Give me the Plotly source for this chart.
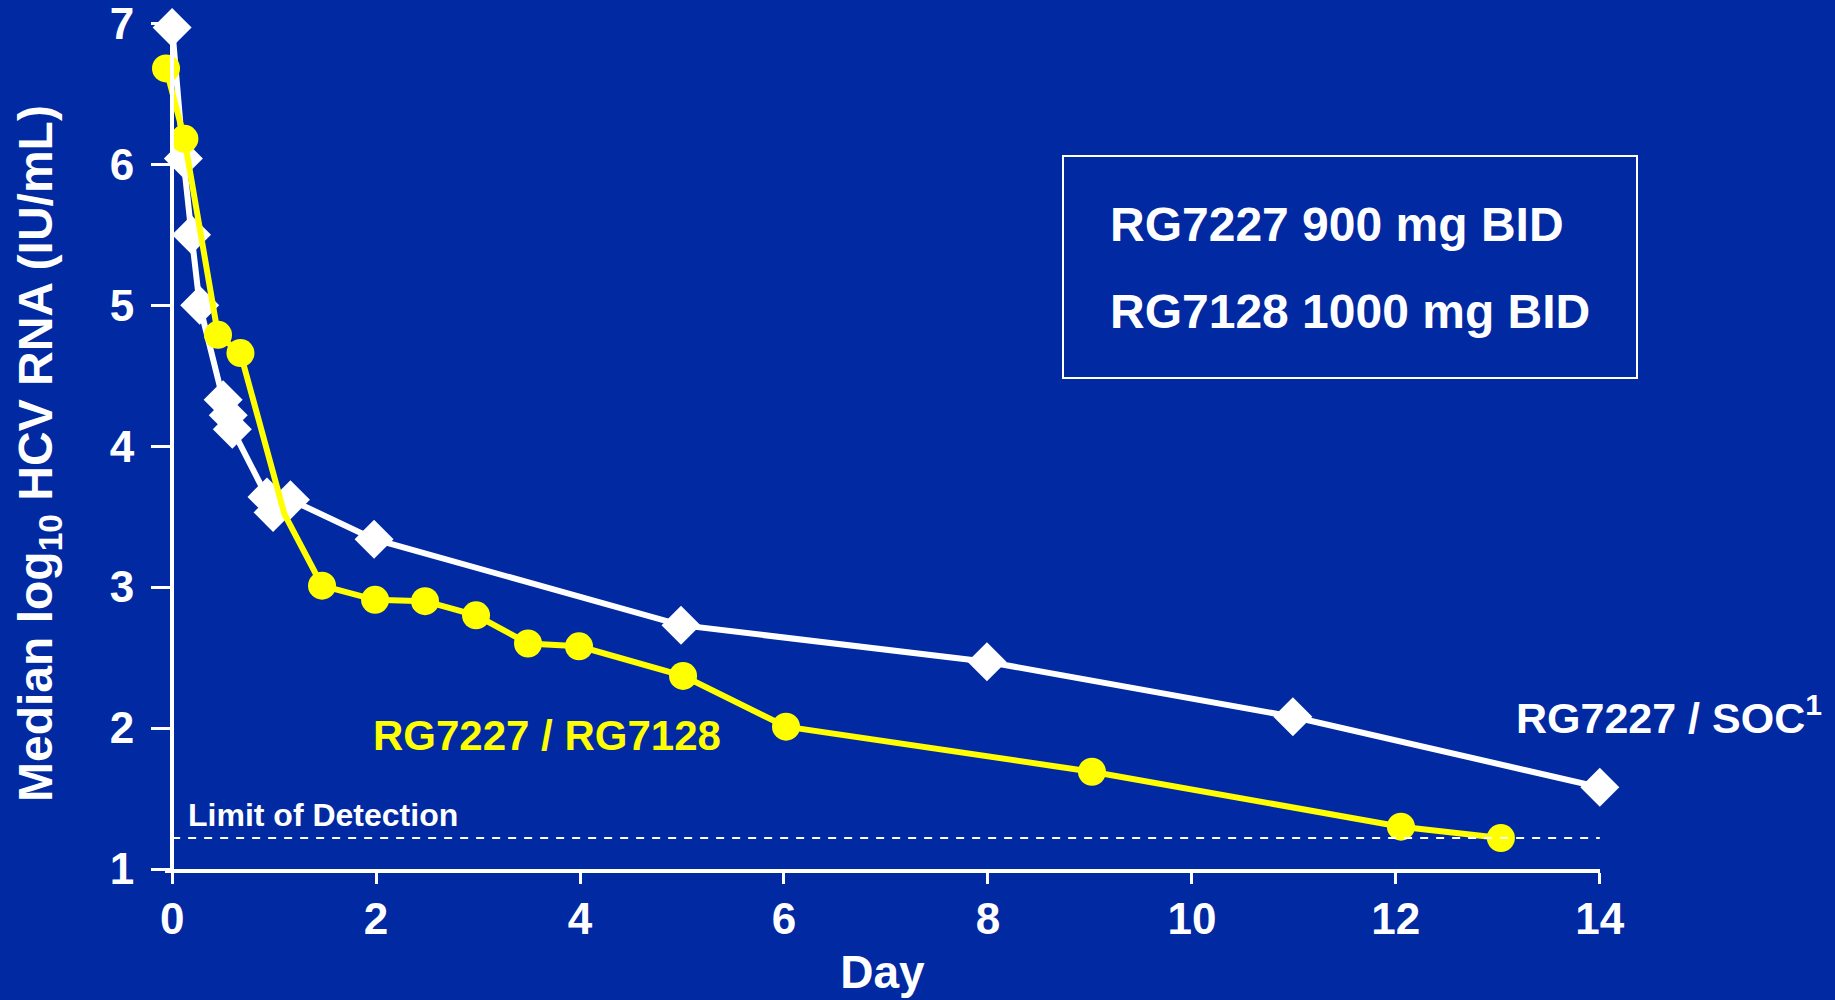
import plotly.graph_objects as go

# ---- data ----
soc_days = [0, 0.11, 0.19, 0.27, 0.50, 0.55, 0.59, 0.93, 0.99, 1.16, 1.98, 4.99, 7.99, 10.99, 14.0]
soc_vals = [6.97, 6.04, 5.50, 5.00, 4.33, 4.22, 4.12, 3.64, 3.53, 3.62, 3.34, 2.73, 2.47, 2.08, 1.58]

combo_days = [-0.06, 0.12, 0.45, 0.67, 1.10, 1.47, 1.99, 2.48, 2.98, 3.49, 3.99, 5.01, 6.02, 9.02, 12.05, 13.03]
combo_vals = [6.68, 6.18, 4.79, 4.66, 3.52, 3.01, 2.91, 2.90, 2.80, 2.60, 2.58, 2.37, 2.01, 1.69, 1.30, 1.22]
combo_has_marker = [1, 1, 1, 1, 0, 1, 1, 1, 1, 1, 1, 1, 1, 1, 1, 1]

limit_of_detection = 1.22
x_ticks = [0, 2, 4, 6, 8, 10, 12, 14]
y_ticks = [1, 2, 3, 4, 5, 6, 7]

BLUE = "#0029A2"
WHITE = "#FFFFFF"
YELLOW = "#FFFF00"
FONT = "Liberation Sans, Arial, sans-serif"

X_RANGE = [-0.07, 14.002]
Y_RANGE = [1, 7.002]
W, H = 1835, 1000
ML, MR, MT, MB = 165, 235, 23, 131
PW, PH = W - ML - MR, H - MT - MB


def px_to_paper_x(px):
    return (px - ML) / PW


def px_to_paper_y(py):
    return (H - MB - py) / PH


fig = go.Figure()

fig.add_trace(go.Scatter(
    x=soc_days, y=soc_vals, mode="lines+markers",
    line=dict(color=WHITE, width=6),
    marker=dict(symbol="diamond", size=30, color=WHITE, opacity=1),
    cliponaxis=False, showlegend=False, name="RG7227 / SOC",
))
fig.add_trace(go.Scatter(
    x=combo_days, y=combo_vals, mode="lines+markers",
    line=dict(color=YELLOW, width=6),
    marker=dict(symbol="circle", size=[28 if m else 0 for m in combo_has_marker],
                color=YELLOW, opacity=1, line=dict(width=0)),
    cliponaxis=False, showlegend=False, name="RG7227 / RG7128",
))

fig.add_shape(type="line", xref="x", yref="y", x0=0, x1=14,
              y0=limit_of_detection, y1=limit_of_detection,
              line=dict(color=WHITE, width=2, dash="8px,8px"))

# legend-like box (placed in page pixels)
fig.add_shape(type="rect", xref="paper", yref="paper",
              x0=px_to_paper_x(1063), x1=px_to_paper_x(1637),
              y0=px_to_paper_y(378), y1=px_to_paper_y(156),
              line=dict(color=WHITE, width=2))


def ann(text, x, y, size, color, xanchor="left"):
    fig.add_annotation(text=text, x=x, y=y, xref="x", yref="y", showarrow=False,
                       xanchor=xanchor, yanchor="middle",
                       font=dict(family=FONT, size=size, color=color, weight="bold"))


ann("RG7227 900 mg BID", 9.18, 5.575, 48, WHITE)
ann("RG7128 1000 mg BID", 9.18, 4.955, 48, WHITE)
ann("RG7227 / RG7128", 1.95, 1.945, 42, YELLOW)
ann("RG7227 / SOC<sup>1</sup>", 13.16, 2.095, 43, WHITE)
ann("Limit of Detection", 0.14, 1.385, 32, WHITE)

# y-axis title as a rotated annotation (page-pixel placement)
fig.add_annotation(text="Median log<sub>10</sub> HCV RNA (IU/mL)", textangle=-90,
                   xref="paper", yref="paper", x=px_to_paper_x(39), y=px_to_paper_y(454),
                   xanchor="center", yanchor="middle", showarrow=False,
                   font=dict(family=FONT, size=48, color=WHITE, weight="bold"))

fig.update_layout(
    width=W, height=H,
    margin=dict(l=ML, r=MR, t=MT, b=MB),
    paper_bgcolor=BLUE, plot_bgcolor=BLUE,
    font=dict(family=FONT, color=WHITE),
)
fig.update_xaxes(
    range=X_RANGE, tickvals=x_ticks, ticktext=[str(v) for v in x_ticks],
    showgrid=False, zeroline=False, showline=True, linecolor=WHITE, linewidth=4,
    ticks="outside", ticklen=11, tickwidth=3, tickcolor=WHITE,
    tickfont=dict(family=FONT, size=44, color=WHITE, weight="bold"),
    ticklabelstandoff=-3, ticklabeloverflow="allow", automargin=False,
    title=dict(text="Day", font=dict(family=FONT, size=46, color=WHITE, weight="bold"), standoff=15),
)
fig.update_yaxes(
    range=Y_RANGE, tickvals=y_ticks, ticktext=[str(v) for v in y_ticks],
    anchor="free", position=(0 - X_RANGE[0]) / (X_RANGE[1] - X_RANGE[0]),
    showgrid=False, zeroline=False, showline=True, linecolor=WHITE, linewidth=4,
    ticks="outside", ticklen=19, tickwidth=3, tickcolor=WHITE,
    tickfont=dict(family=FONT, size=44, color=WHITE, weight="bold"),
    ticklabelstandoff=8, ticklabeloverflow="allow", automargin=False,
)

fig.write_html("out.html", post_script="document.body.style.margin='0';",
               config={"displayModeBar": False})
